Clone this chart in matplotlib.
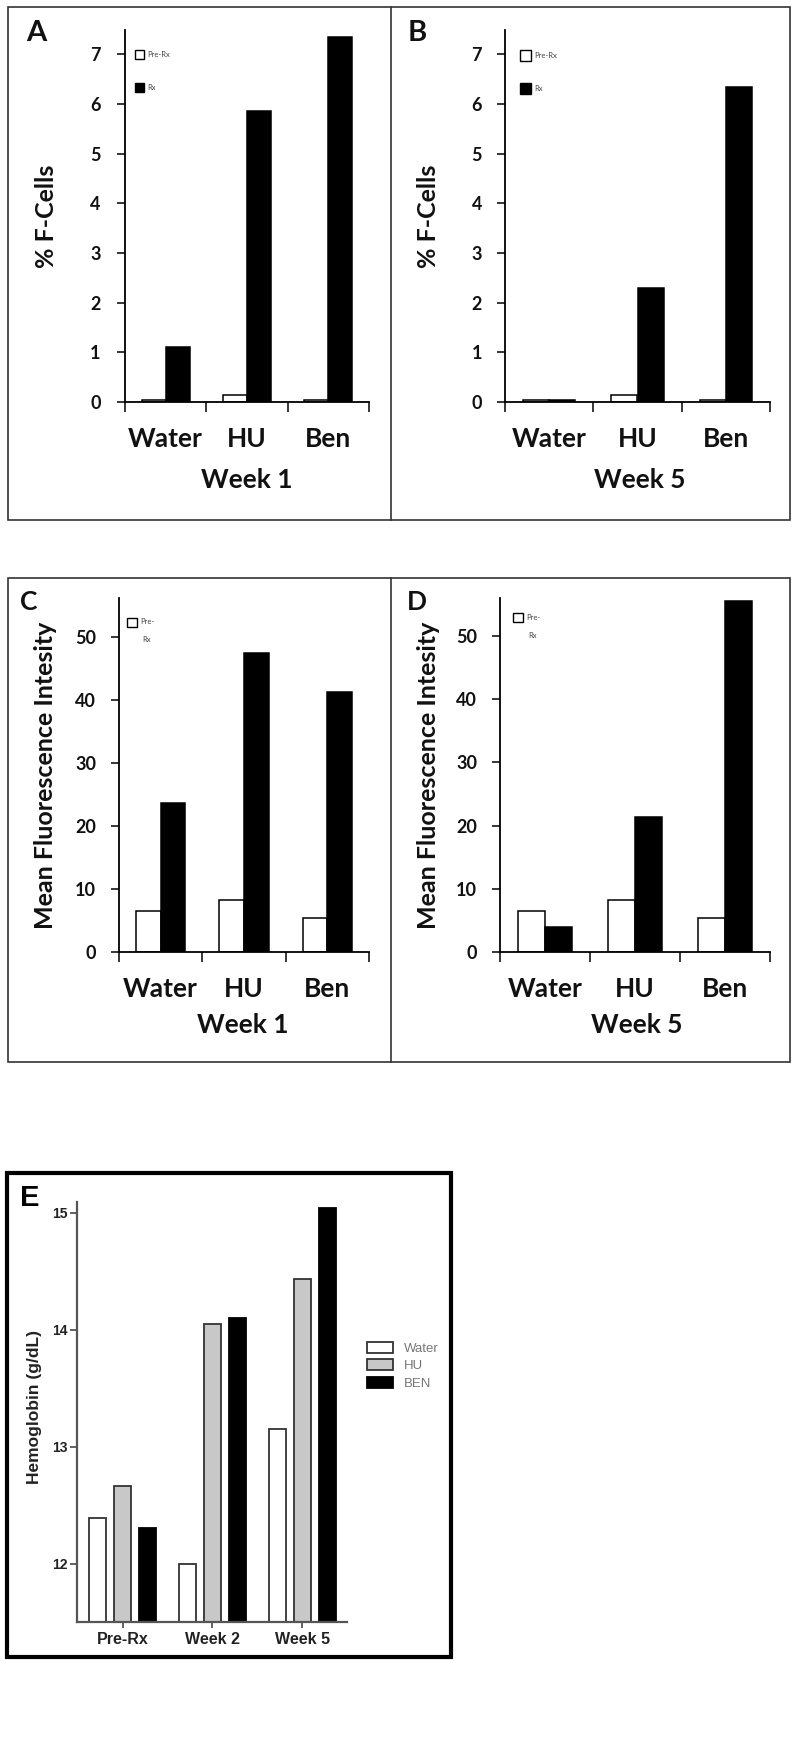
import matplotlib
matplotlib.use("Agg")
import matplotlib.pyplot as plt
from matplotlib.patches import Rectangle
from matplotlib.lines import Line2D

# ---- data ----
fcell_cats = ["Water", "HU", "Ben"]
fcell_wk1_pre = [0.05, 0.15, 0.05]
fcell_wk1_rx = [1.1, 5.85, 7.35]
fcell_wk5_pre = [0.05, 0.15, 0.05]
fcell_wk5_rx = [0.05, 2.3, 6.35]

mfi_wk1_pre = [6.5, 8.3, 5.4]
mfi_wk1_rx = [23.6, 47.4, 41.3]
mfi_wk5_pre = [6.5, 8.3, 5.4]
mfi_wk5_rx = [4.0, 21.3, 55.6]

hb_cats = ["Pre-Rx", "Week 2", "Week 5"]
hb_water = [12.39, 12.0, 13.15]
hb_hu = [12.66, 14.05, 14.43]
hb_ben = [12.30, 14.1, 15.04]

W, H = 800, 1737
fig = plt.figure(figsize=(W / 100, H / 100), dpi=100)

CAL = ["Lato", "DejaVu Sans"]
ARL = ["Liberation Sans", "DejaVu Sans"]


def rect(x0, y0, x1, y1):
    return [x0 / W, 1 - y1 / H, (x1 - x0) / W, (y1 - y0) / H]


def ftext(x, y, s, **kw):
    fig.text(x / W, 1 - y / H, s, **kw)


def fbox(x0, y0, x1, y1, lw=1.2, ec="#333333", fc="none"):
    fig.add_artist(Rectangle((x0 / W, 1 - y1 / H), (x1 - x0) / W, (y1 - y0) / H,
                             transform=fig.transFigure, lw=lw, ec=ec, fc=fc))


def fline(x0, y0, x1, y1, lw=1.2, c="#333333"):
    fig.add_artist(Line2D([x0 / W, x1 / W], [1 - y0 / H, 1 - y1 / H],
                          transform=fig.transFigure, lw=lw, color=c))


def two_bar(box, pre, rx, top, yticks, lpad):
    ax = fig.add_axes(rect(*box))
    x = [1, 2, 3]
    w = 0.295
    ax.bar([i - w / 2 for i in x], pre, w, color="white", edgecolor="black", lw=1.1)
    ax.bar([i + w / 2 for i in x], rx, w, color="black", edgecolor="black", lw=1.1)
    ax.set_xlim(0.5, 3.5)
    ax.set_ylim(0, top)
    for s in ["top", "right"]:
        ax.spines[s].set_visible(False)
    for s in ["left", "bottom"]:
        ax.spines[s].set_linewidth(1.3)
    ax.set_xticks(x)
    ax.set_xticklabels(fcell_cats, family=CAL, fontweight="bold", fontsize=19, color="#111111")
    ax.tick_params(axis="x", which="major", length=0, pad=18)
    ax.set_xticks([0.5, 1.5, 2.5, 3.5], minor=True)
    ax.tick_params(axis="x", which="minor", length=7, width=1.1, direction="out")
    ax.set_yticks(yticks)
    ax.set_yticklabels([str(t) for t in yticks], family=CAL, fontweight="bold", fontsize=13, color="#111111")
    ax.tick_params(axis="y", length=5.5, width=1.1, direction="out", pad=lpad)
    return ax


# ---- panel frames ----
fbox(8, 7, 790, 520)
fline(391, 7, 391, 520)
fbox(8, 578, 790, 1062)
fline(391, 578, 391, 1062)
fbox(7, 1173, 451, 1657, lw=3, ec="black")

# ---- A / B ----
two_bar((125, 30, 369, 402), fcell_wk1_pre, fcell_wk1_rx, 7.49, range(8), 12)
two_bar((505, 30, 770, 402), fcell_wk5_pre, fcell_wk5_rx, 7.49, range(8), 11)
# ---- C / D ----
two_bar((119, 598, 369, 952), mfi_wk1_pre, mfi_wk1_rx, 56.2, range(0, 60, 10), 11)
two_bar((500, 598, 770, 952), mfi_wk5_pre, mfi_wk5_rx, 56.0, range(0, 60, 10), 11)

bold = dict(family=CAL, fontweight="bold", color="#111111")
ftext(36, 33, "A", fontsize=21, ha="center", va="center", **bold)
ftext(417, 33, "B", fontsize=21, ha="center", va="center", **bold)
ftext(29, 602, "C", fontsize=19, ha="center", va="center", **bold)
ftext(417, 602, "D", fontsize=19, ha="center", va="center", **bold)

ftext(46, 216, "% F-Cells", fontsize=18, rotation=90, ha="center", va="center", **bold)
ftext(428, 216, "% F-Cells", fontsize=18, rotation=90, ha="center", va="center", **bold)
ftext(46, 775, "Mean Fluorescence Intesity", fontsize=18, rotation=90, ha="center", va="center", **bold)
ftext(428, 775, "Mean Fluorescence Intesity", fontsize=18, rotation=90, ha="center", va="center", **bold)

ftext(247, 480, "Week 1", fontsize=19, ha="center", va="center", **bold)
ftext(640, 480, "Week 5", fontsize=19, ha="center", va="center", **bold)
ftext(243, 1025, "Week 1", fontsize=19, ha="center", va="center", **bold)
ftext(637, 1025, "Week 5", fontsize=19, ha="center", va="center", **bold)

# small legends
small = dict(family=CAL, fontsize=5.5, color="#444444", va="center")
for lx, ly, sz in [(135, 50, 9), (520, 50, 11)]:
    fbox(lx, ly, lx + sz, ly + sz, lw=1, ec="black", fc="white")
    ftext(lx + sz + 3, ly + sz / 2, "Pre-Rx", **small)
    fbox(lx, ly + 33, lx + sz, ly + 33 + sz, lw=1, ec="black", fc="black")
    ftext(lx + sz + 3, ly + 33 + sz / 2, "Rx", **small)
for lx, ly in [(127, 618), (513, 613)]:
    fbox(lx, ly, lx + 10, ly + 9, lw=1, ec="black", fc="white")
    ftext(lx + 13, ly + 4, "Pre-", **small)
    ftext(lx + 15, ly + 22, "Rx", **small)

# ---- E ----
axe = fig.add_axes(rect(77, 1202, 347, 1622))
xs = [0, 1, 2]
bw = 0.19
off = 0.28
axe.bar([i - off for i in xs], hb_water, bw, color="white", edgecolor="#333333", lw=1.3, label="Water")
axe.bar(xs, hb_hu, bw, color="#c8c8c8", edgecolor="#333333", lw=1.3, label="HU")
axe.bar([i + off for i in xs], hb_ben, bw, color="black", edgecolor="black", lw=1.3, label="BEN")
axe.set_xlim(-0.51, 2.5)
axe.set_ylim(11.5, 15.09)
for s in ["top", "right"]:
    axe.spines[s].set_visible(False)
for s in ["left", "bottom"]:
    axe.spines[s].set_linewidth(1.6)
    axe.spines[s].set_color("#555555")
axe.set_xticks(xs)
axe.set_xticklabels(hb_cats, family=ARL, fontweight="bold", fontsize=11.5, color="#222222")
axe.set_yticks([12, 13, 14, 15])
axe.set_yticklabels(["12", "13", "14", "15"], family=ARL, fontweight="bold", fontsize=10, color="#222222")
axe.tick_params(axis="x", length=4, width=1.3, color="#555555", pad=3)
axe.tick_params(axis="y", length=5, width=1.3, color="#555555", pad=1.5)
axe.legend(loc="center left", bbox_to_anchor=(1.03, 0.61), frameon=False,
           prop={"family": ARL, "size": 9.5}, labelcolor="#777777",
           handlelength=2.0, handleheight=0.9, labelspacing=0.35, handletextpad=0.8)

ftext(30, 1198, "E", fontsize=21, ha="center", va="center", family=ARL, fontweight="bold")
ftext(35, 1407, "Hemoglobin (g/dL)", fontsize=12.5, rotation=90, ha="center", va="center",
      family=ARL, fontweight="bold", color="#222222")

fig.savefig("out.png", dpi=100)
